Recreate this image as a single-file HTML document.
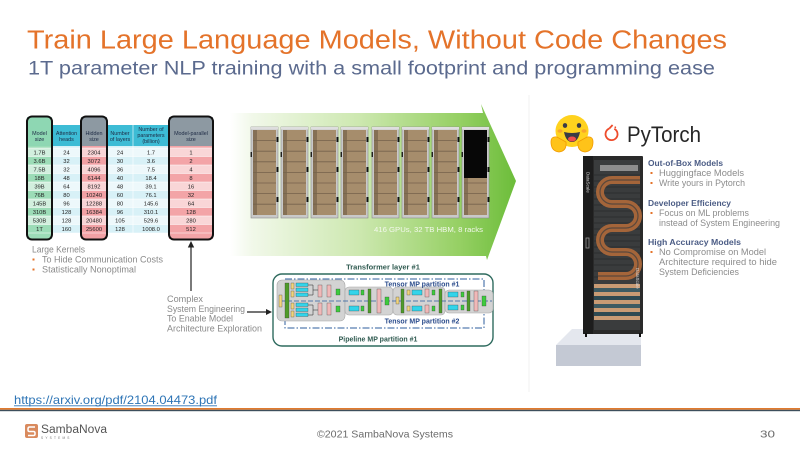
<!DOCTYPE html>
<html><head><meta charset="utf-8"><style>
html,body{margin:0;padding:0;background:#fff;}
svg{display:block;}
text{font-family:"Liberation Sans",sans-serif;}
</style></head><body>
<svg width="800" height="450" viewBox="0 0 800 450" xmlns="http://www.w3.org/2000/svg">
<defs>
<linearGradient id="ga" x1="230" y1="0" x2="516" y2="0" gradientUnits="userSpaceOnUse">
<stop offset="0" stop-color="#ffffff"/><stop offset="0.08" stop-color="#f1f8e9"/>
<stop offset="0.45" stop-color="#cde8b0"/><stop offset="0.8" stop-color="#96d064"/><stop offset="1" stop-color="#6cbd3a"/>
</linearGradient>
<g id="rack">
<rect x="0" y="0" width="27" height="91" fill="#c9c9c9" stroke="#8a8a8a" stroke-width="0.6"/>
<rect x="0" y="0" width="27" height="2.5" fill="#dedede"/>
<rect x="2" y="3" width="23" height="85" fill="#a68d6c"/>
<rect x="2" y="3" width="4" height="85" fill="#857055"/>
<g stroke="#75624b" stroke-width="0.8">
<line x1="2" y1="13.6" x2="25" y2="13.6"/><line x1="2" y1="24.2" x2="25" y2="24.2"/><line x1="2" y1="34.8" x2="25" y2="34.8"/><line x1="2" y1="45.4" x2="25" y2="45.4"/><line x1="2" y1="56" x2="25" y2="56"/><line x1="2" y1="66.6" x2="25" y2="66.6"/><line x1="2" y1="77.2" x2="25" y2="77.2"/>
</g>
<rect x="25.5" y="10" width="2" height="5" fill="#111"/><rect x="25.5" y="40" width="2" height="5" fill="#111"/><rect x="25.5" y="70" width="2" height="5" fill="#111"/>
<rect x="-0.5" y="25" width="1.5" height="5" fill="#222"/>
</g>
</defs>

<!-- Title -->
<text x="27" y="48.5" font-size="25.5" fill="#E4732A" textLength="700" lengthAdjust="spacingAndGlyphs">Train Large Language Models, Without Code Changes</text>
<text x="28" y="74.5" font-size="19.5" fill="#5B6A8E" textLength="687" lengthAdjust="spacingAndGlyphs">1T parameter NLP training with a small footprint and programming ease</text>

<!-- faint separator -->
<line x1="529" y1="95" x2="529" y2="392" stroke="#f2f2f2" stroke-width="1"/>

<!-- Green arrow -->
<polygon points="230,113 483,113 481,104 516,181 487,260 486,256 230,256" fill="url(#ga)"/>

<!-- Racks -->
<use href="#rack" x="251" y="127"/>
<use href="#rack" x="281" y="127"/>
<use href="#rack" x="311" y="127"/>
<use href="#rack" x="341" y="127"/>
<use href="#rack" x="372" y="127"/>
<use href="#rack" x="402" y="127"/>
<use href="#rack" x="432" y="127"/>
<use href="#rack" x="462" y="127"/>
<rect x="464" y="130" width="23" height="48" fill="#070707"/>
<text x="374" y="232" font-size="7.5" fill="#f3f8ec" textLength="109" lengthAdjust="spacingAndGlyphs">416 GPUs, 32 TB HBM, 8 racks</text>

<!-- Table -->
<g>
<!-- header -->
<rect x="27" y="117" width="25" height="29" fill="#8ed7b3"/>
<rect x="52" y="125" width="29" height="21" fill="#3dbcd5"/>
<rect x="81" y="117" width="26" height="29" fill="#8d99a2"/>
<rect x="107" y="125" width="26" height="21" fill="#3dbcd5"/>
<rect x="133" y="125" width="36" height="21" fill="#3dbcd5"/>
<rect x="169" y="117" width="44" height="29" fill="#8d99a2"/>
<!-- body columns -->
<rect x="27" y="146" width="25" height="93" fill="#9cdcb7"/>
<rect x="52" y="146" width="29" height="87" fill="#d8f1f7"/>
<rect x="81" y="146" width="26" height="93" fill="#f2a1a5"/>
<rect x="107" y="146" width="26" height="87" fill="#d8f1f7"/>
<rect x="133" y="146" width="36" height="87" fill="#d8f1f7"/>
<rect x="169" y="146" width="44" height="93" fill="#f3a4a7"/>
<!-- light alternating rows -->
<g fill="#ffffff" opacity="0.55">
<rect x="27" y="148" width="186" height="8.5"/>
<rect x="27" y="165" width="186" height="8.5"/>
<rect x="27" y="182" width="186" height="8.5"/>
<rect x="27" y="199" width="186" height="8.5"/>
<rect x="27" y="216" width="186" height="8.5"/>
</g>
<g stroke="#ffffff" stroke-width="0.6">
<line x1="27" y1="148" x2="213" y2="148"/><line x1="27" y1="156.5" x2="213" y2="156.5"/><line x1="27" y1="165" x2="213" y2="165"/><line x1="27" y1="173.5" x2="213" y2="173.5"/><line x1="27" y1="182" x2="213" y2="182"/><line x1="27" y1="190.5" x2="213" y2="190.5"/><line x1="27" y1="199" x2="213" y2="199"/><line x1="27" y1="207.5" x2="213" y2="207.5"/><line x1="27" y1="216" x2="213" y2="216"/><line x1="27" y1="224.5" x2="213" y2="224.5"/><line x1="27" y1="233" x2="213" y2="233"/>
<line x1="52" y1="125" x2="52" y2="233"/><line x1="81" y1="125" x2="81" y2="233"/><line x1="107" y1="125" x2="107" y2="233"/><line x1="133" y1="125" x2="133" y2="233"/><line x1="169" y1="125" x2="169" y2="233"/>
</g>
<!-- header text -->
<g font-size="5.4" fill="#1d2a44" text-anchor="middle">
<text x="39.5" y="135">Model</text><text x="39.5" y="141">size</text>
<text x="66.5" y="135">Attention</text><text x="66.5" y="141">heads</text>
<text x="94" y="135">Hidden</text><text x="94" y="141">size</text>
<text x="120" y="135">Number</text><text x="120" y="141">of layers</text>
<text x="151" y="131">Number of</text><text x="151" y="137">parameters</text><text x="151" y="143">(billion)</text>
<text x="191" y="135">Model-parallel</text><text x="191" y="141">size</text>
</g>
<!-- data -->
<g font-size="5.8" fill="#222" text-anchor="middle">
<text x="39.5" y="154.4">1.7B</text><text x="66.5" y="154.4">24</text><text x="94" y="154.4">2304</text><text x="120" y="154.4">24</text><text x="151" y="154.4">1.7</text><text x="191" y="154.4">1</text>
<text x="39.5" y="162.9">3.6B</text><text x="66.5" y="162.9">32</text><text x="94" y="162.9">3072</text><text x="120" y="162.9">30</text><text x="151" y="162.9">3.6</text><text x="191" y="162.9">2</text>
<text x="39.5" y="171.4">7.5B</text><text x="66.5" y="171.4">32</text><text x="94" y="171.4">4096</text><text x="120" y="171.4">36</text><text x="151" y="171.4">7.5</text><text x="191" y="171.4">4</text>
<text x="39.5" y="179.9">18B</text><text x="66.5" y="179.9">48</text><text x="94" y="179.9">6144</text><text x="120" y="179.9">40</text><text x="151" y="179.9">18.4</text><text x="191" y="179.9">8</text>
<text x="39.5" y="188.4">39B</text><text x="66.5" y="188.4">64</text><text x="94" y="188.4">8192</text><text x="120" y="188.4">48</text><text x="151" y="188.4">39.1</text><text x="191" y="188.4">16</text>
<text x="39.5" y="196.9">76B</text><text x="66.5" y="196.9">80</text><text x="94" y="196.9">10240</text><text x="120" y="196.9">60</text><text x="151" y="196.9">76.1</text><text x="191" y="196.9">32</text>
<text x="39.5" y="205.4">145B</text><text x="66.5" y="205.4">96</text><text x="94" y="205.4">12288</text><text x="120" y="205.4">80</text><text x="151" y="205.4">145.6</text><text x="191" y="205.4">64</text>
<text x="39.5" y="213.9">310B</text><text x="66.5" y="213.9">128</text><text x="94" y="213.9">16384</text><text x="120" y="213.9">96</text><text x="151" y="213.9">310.1</text><text x="191" y="213.9">128</text>
<text x="39.5" y="222.4">530B</text><text x="66.5" y="222.4">128</text><text x="94" y="222.4">20480</text><text x="120" y="222.4">105</text><text x="151" y="222.4">529.6</text><text x="191" y="222.4">280</text>
<text x="39.5" y="230.9">1T</text><text x="66.5" y="230.9">160</text><text x="94" y="230.9">25600</text><text x="120" y="230.9">128</text><text x="151" y="230.9">1008.0</text><text x="191" y="230.9">512</text>
</g>
<!-- outlines -->
<g fill="none" stroke="#111" stroke-width="2">
<rect x="27" y="116.5" width="25" height="123" rx="5"/>
<rect x="81" y="116.5" width="26" height="123" rx="5"/>
<rect x="169" y="116.5" width="44" height="123" rx="5"/>
</g>
</g>

<!-- Large kernels -->
<g font-size="9" fill="#8a8a8a">
<text x="32" y="252.5" textLength="53" lengthAdjust="spacingAndGlyphs">Large Kernels</text>
<text x="42" y="262.5" textLength="121" lengthAdjust="spacingAndGlyphs">To Hide Communication Costs</text>
<text x="42" y="272.5" textLength="94" lengthAdjust="spacingAndGlyphs">Statistically Nonoptimal</text>
</g>
<rect x="32.5" y="258.5" width="2" height="2" fill="#E4732A"/>
<rect x="32.5" y="268.5" width="2" height="2" fill="#E4732A"/>

<!-- vertical arrow -->
<line x1="191" y1="291" x2="191" y2="246" stroke="#333" stroke-width="1.3"/>
<polygon points="191,241 187.8,247.5 194.2,247.5" fill="#222"/>

<!-- complex text -->
<g font-size="9" fill="#8a8a8a">
<text x="167" y="302" textLength="36" lengthAdjust="spacingAndGlyphs">Complex</text>
<text x="167" y="312" textLength="78" lengthAdjust="spacingAndGlyphs">System Engineering</text>
<text x="167" y="321.5" textLength="66" lengthAdjust="spacingAndGlyphs">To Enable Model</text>
<text x="167" y="331.5" textLength="95" lengthAdjust="spacingAndGlyphs">Architecture Exploration</text>
</g>
<line x1="247" y1="312" x2="267" y2="312" stroke="#222" stroke-width="1.2"/>
<polygon points="272,312 266,309 266,315" fill="#222"/>

<!-- Transformer diagram -->
<text x="383" y="269.5" font-size="7.5" font-weight="bold" fill="#2f5a50" text-anchor="middle">Transformer layer #1</text>
<rect x="273" y="274" width="220" height="72" rx="9" fill="#fff" stroke="#2F6B5F" stroke-width="1.4"/>
<rect x="285" y="279" width="199" height="49" fill="none" stroke="#2C5E9E" stroke-width="1" stroke-dasharray="7,2,1.5,2"/>
<g stroke="#a5a5a5" stroke-width="0.6" fill="#d3d3d3">
<rect x="277" y="280" width="68" height="41" rx="5"/>
<rect x="345" y="287" width="48" height="28" rx="4"/>
<rect x="393" y="287" width="52" height="28" rx="4"/>
<rect x="445" y="290" width="48" height="23" rx="4"/>
</g>
<line x1="280" y1="301" x2="492" y2="301" stroke="#2C5E9E" stroke-width="0.8" stroke-dasharray="5,2"/>
<g stroke="#333" stroke-width="0.3">
<rect x="279" y="295" width="3" height="12" fill="#f1d47c"/>
<rect x="285" y="283" width="4" height="35" fill="#4f9b2a"/>
<rect x="291" y="283" width="3" height="6" fill="#f1d47c"/><rect x="291" y="291" width="3" height="6" fill="#f1d47c"/>
<rect x="291" y="303" width="3" height="6" fill="#f1d47c"/><rect x="291" y="311" width="3" height="6" fill="#f1d47c"/>
<rect x="296" y="283" width="12" height="3.5" fill="#33d4ea"/><rect x="296" y="288" width="12" height="3.5" fill="#33d4ea"/><rect x="296" y="293" width="12" height="3.5" fill="#33d4ea"/>
<rect x="296" y="303" width="12" height="3.5" fill="#33d4ea"/><rect x="296" y="308" width="12" height="3.5" fill="#33d4ea"/><rect x="296" y="313" width="12" height="3.5" fill="#33d4ea"/>
<rect x="318" y="285" width="4" height="12" fill="#f0b8b8"/><rect x="318" y="303" width="4" height="12" fill="#f0b8b8"/>
<rect x="327" y="285" width="4" height="12" fill="#f0b8b8"/><rect x="327" y="303" width="4" height="12" fill="#f0b8b8"/>
<rect x="336" y="289" width="4" height="6" fill="#3dcb3d"/><rect x="336" y="306" width="4" height="6" fill="#3dcb3d"/>
<rect x="349" y="290" width="10" height="5" fill="#33d4ea"/><rect x="349" y="306" width="10" height="5" fill="#33d4ea"/>
<rect x="361" y="290" width="3" height="5" fill="#3dcb3d"/><rect x="361" y="306" width="3" height="5" fill="#3dcb3d"/>
<rect x="368" y="289" width="3" height="24" fill="#4f9b2a"/>
<rect x="377" y="289" width="4" height="24" fill="#f0b8b8"/>
<rect x="385" y="297" width="4" height="8" fill="#3dcb3d"/>
<rect x="396" y="297" width="3" height="7" fill="#f1d47c"/>
<rect x="401" y="289" width="3" height="24" fill="#4f9b2a"/>
<rect x="407" y="290" width="3" height="5" fill="#f1d47c"/><rect x="407" y="306" width="3" height="5" fill="#f1d47c"/>
<rect x="412" y="290" width="10" height="5" fill="#33d4ea"/><rect x="412" y="306" width="10" height="5" fill="#33d4ea"/>
<rect x="425" y="289" width="4" height="8" fill="#f0b8b8"/><rect x="425" y="305" width="4" height="8" fill="#f0b8b8"/>
<rect x="432" y="290" width="3" height="5" fill="#3dcb3d"/><rect x="432" y="306" width="3" height="5" fill="#3dcb3d"/>
<rect x="439" y="289" width="3" height="24" fill="#4f9b2a"/>
<rect x="448" y="292" width="10" height="5" fill="#33d4ea"/><rect x="448" y="305" width="10" height="5" fill="#33d4ea"/>
<rect x="461" y="292" width="3" height="5" fill="#3dcb3d"/><rect x="461" y="305" width="3" height="5" fill="#3dcb3d"/>
<rect x="467" y="291" width="3" height="20" fill="#4f9b2a"/>
<rect x="474" y="291" width="4" height="20" fill="#f0b8b8"/>
<rect x="482" y="296" width="4" height="10" fill="#3dcb3d"/>
</g>
<g fill="none" stroke="#222" stroke-width="0.5">
<path d="M308 285 H313 V295 H308 M308 305 H313 V315 H308 M313 290 H318 M313 310 H318"/>
</g>
<text x="422" y="286.5" font-size="7" font-weight="bold" fill="#2B4C8C" text-anchor="middle">Tensor MP partition #1</text>
<text x="422" y="323.5" font-size="7" font-weight="bold" fill="#2B4C8C" text-anchor="middle">Tensor MP partition #2</text>
<text x="378" y="341.5" font-size="7" font-weight="bold" fill="#2f5a50" text-anchor="middle">Pipeline MP partition #1</text>

<!-- Hugging face emoji -->
<ellipse cx="572" cy="131" rx="16.5" ry="16" fill="#FFD21E"/>
<ellipse cx="565" cy="125.5" rx="2.2" ry="2.4" fill="#3a3b45"/>
<ellipse cx="579" cy="125.5" rx="2.2" ry="2.4" fill="#3a3b45"/>
<ellipse cx="560" cy="131" rx="2.5" ry="1.8" fill="#f79b2e" opacity="0.8"/>
<ellipse cx="584" cy="131" rx="2.5" ry="1.8" fill="#f79b2e" opacity="0.8"/>
<path d="M564 132 Q572 134 580 132 Q578 142 572 142 Q566 142 564 132 Z" fill="#3a3b45"/>
<ellipse cx="572" cy="139" rx="4" ry="2.5" fill="#ef4e4e"/>
<path d="M551 142 Q551 136 557 137 L566 142 Q567 151 559 152 Q551 151 551 142 Z" fill="#FFC319" stroke="#F29A00" stroke-width="0.8"/>
<path d="M593 142 Q593 136 587 137 L578 142 Q577 151 585 152 Q593 151 593 142 Z" fill="#FFC319" stroke="#F29A00" stroke-width="0.8"/>

<!-- PyTorch logo -->
<path d="M609.2 128.6 A6 6 0 1 0 614.3 128.8" fill="none" stroke="#EE4C2C" stroke-width="1.8"/>
<path d="M609.2 128.6 L612.6 125" fill="none" stroke="#EE4C2C" stroke-width="1.8"/>
<circle cx="615.3" cy="127.3" r="0.9" fill="#EE4C2C"/>
<text x="627" y="142" font-size="22" fill="#262626" textLength="74" lengthAdjust="spacingAndGlyphs">PyTorch</text>

<!-- Pedestal -->
<polygon points="556,345 572,329 641,329 641,345" fill="#e4e7ee"/>
<rect x="556" y="345" width="85" height="21" fill="#c4c9d4"/>

<!-- Server rack -->
<rect x="583" y="156" width="60" height="178" rx="1" fill="#2a2a2a"/>
<rect x="583" y="156" width="10" height="178" fill="#1d1d1d"/>
<rect x="594" y="160" width="46" height="170" fill="#3a3c3d"/>
<g stroke="#2c2e2f" stroke-width="1">
<line x1="594" y1="175" x2="640" y2="175"/><line x1="594" y1="181" x2="640" y2="181"/><line x1="594" y1="187" x2="640" y2="187"/><line x1="594" y1="193" x2="640" y2="193"/><line x1="594" y1="199" x2="640" y2="199"/><line x1="594" y1="205" x2="640" y2="205"/><line x1="594" y1="211" x2="640" y2="211"/><line x1="594" y1="217" x2="640" y2="217"/><line x1="594" y1="223" x2="640" y2="223"/><line x1="594" y1="229" x2="640" y2="229"/><line x1="594" y1="235" x2="640" y2="235"/><line x1="594" y1="241" x2="640" y2="241"/><line x1="594" y1="247" x2="640" y2="247"/><line x1="594" y1="253" x2="640" y2="253"/><line x1="594" y1="259" x2="640" y2="259"/><line x1="594" y1="265" x2="640" y2="265"/><line x1="594" y1="271" x2="640" y2="271"/><line x1="594" y1="277" x2="640" y2="277"/>
</g>
<rect x="600" y="165" width="38" height="6" fill="#8d8d8d"/>
<path d="M640 180 H612 A12 12 0 0 0 612 204 H626 A12 12 0 0 1 626 228 H612 A12 12 0 0 0 612 252 H626 A12 12 0 0 1 626 276 H598" fill="none" stroke="#a4653a" stroke-width="8"/>
<path d="M640 180 H612 A12 12 0 0 0 612 204 H626 A12 12 0 0 1 626 228 H612 A12 12 0 0 0 612 252 H626 A12 12 0 0 1 626 276 H598" fill="none" stroke="#3a3c3d" stroke-width="1.2" opacity="0.7"/>
<g>
<rect x="594" y="284" width="46" height="4" fill="#c99b74"/>
<rect x="594" y="288" width="46" height="4" fill="#3e5b62"/>
<rect x="594" y="292" width="46" height="4" fill="#c99b74"/>
<rect x="594" y="296" width="46" height="4" fill="#2f4a52"/>
<rect x="594" y="300" width="46" height="4" fill="#c99b74"/>
<rect x="594" y="304" width="46" height="4" fill="#3e5b62"/>
<rect x="594" y="308" width="46" height="4" fill="#c99b74"/>
<rect x="594" y="312" width="46" height="4" fill="#2f4a52"/>
<rect x="594" y="316" width="46" height="4" fill="#c99b74"/>
<rect x="594" y="320" width="46" height="6" fill="#3a3c3d"/>
</g>
<rect x="586" y="238" width="3" height="10" fill="none" stroke="#999" stroke-width="0.8"/>
<text x="0" y="0" font-size="4.5" fill="#ddd" transform="translate(586.5 172) rotate(90)">DataScale</text>
<text x="0" y="0" font-size="4.5" fill="#ddd" transform="translate(636 268) rotate(90)">DataScale</text>
<rect x="585" y="333" width="2" height="4" fill="#111"/><rect x="639" y="333" width="2" height="4" fill="#111"/>

<!-- Right text -->
<g font-size="8.6" font-weight="bold" fill="#4B5C85">
<text x="648" y="166" textLength="75" lengthAdjust="spacingAndGlyphs">Out-of-Box Models</text>
<text x="648" y="206" textLength="83" lengthAdjust="spacingAndGlyphs">Developer Efficiency</text>
<text x="648" y="245" textLength="93" lengthAdjust="spacingAndGlyphs">High Accuracy Models</text>
</g>
<g font-size="9" fill="#8c8c8c">
<text x="659" y="176" textLength="85" lengthAdjust="spacingAndGlyphs">Huggingface Models</text>
<text x="659" y="186" textLength="86" lengthAdjust="spacingAndGlyphs">Write yours in Pytorch</text>
<text x="659" y="216" textLength="90" lengthAdjust="spacingAndGlyphs">Focus on ML problems</text>
<text x="659" y="226" textLength="121" lengthAdjust="spacingAndGlyphs">instead of System Engineering</text>
<text x="659" y="255" textLength="107" lengthAdjust="spacingAndGlyphs">No Compromise on Model</text>
<text x="659" y="265" textLength="118" lengthAdjust="spacingAndGlyphs">Architecture required to hide</text>
<text x="659" y="275" textLength="80" lengthAdjust="spacingAndGlyphs">System Deficiencies</text>
</g>
<g fill="#E4732A">
<rect x="650.5" y="172" width="2" height="2"/><rect x="650.5" y="182" width="2" height="2"/>
<rect x="650.5" y="212" width="2" height="2"/>
<rect x="650.5" y="251" width="2" height="2"/>
</g>

<!-- URL -->
<text x="14" y="404" font-size="12" fill="#2E75B6" textLength="203" lengthAdjust="spacingAndGlyphs">https://arxiv.org/pdf/2104.04473.pdf</text>
<line x1="14" y1="405.8" x2="217" y2="405.8" stroke="#2E75B6" stroke-width="0.8"/>

<!-- footer lines -->
<rect x="0" y="408" width="800" height="1.8" fill="#E07A2E"/>
<rect x="0" y="409.8" width="800" height="1.4" fill="#3d4f5c"/>

<!-- logo -->
<rect x="25" y="424" width="13" height="14" rx="2" fill="#D98A5E"/>
<path d="M35 427 H29.5 Q28 427 28 429 V430 Q28 431.5 29.5 431.5 H33.5 Q35 431.5 35 433 V434 Q35 435.5 33.5 435.5 H28" fill="none" stroke="#fff" stroke-width="1.5"/>
<text x="41" y="433" font-size="11.5" fill="#555" textLength="66" lengthAdjust="spacingAndGlyphs">SambaNova</text>
<text x="41" y="439" font-size="3.2" fill="#777" letter-spacing="2.2">SYSTEMS</text>

<text x="317" y="437.5" font-size="10.5" fill="#6b6b6b" textLength="136" lengthAdjust="spacingAndGlyphs">©2021 SambaNova Systems</text>
<text x="760" y="437.5" font-size="10.5" fill="#6b6b6b" textLength="15" lengthAdjust="spacingAndGlyphs">30</text>
</svg>
</body></html>
